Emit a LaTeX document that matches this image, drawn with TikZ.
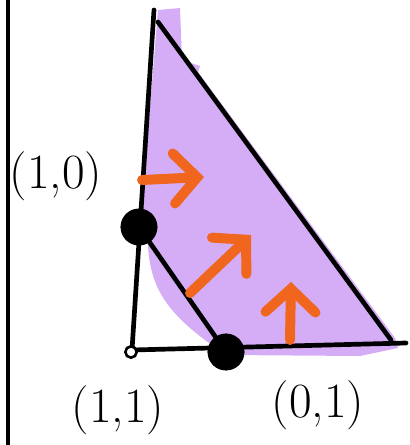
\documentclass[tikz,border=0pt]{standalone}
\usetikzlibrary{arrows.meta}
\definecolor{lila}{HTML}{D5ADF6}
\definecolor{orangey}{HTML}{F0661F}

\begin{document}
\begin{tikzpicture}[x=0.03cm, y=-0.03cm,
  edge/.style={line width=4pt, line cap=round, line join=round},
  dot/.style={circle, fill=black, minimum size=1.1cm, inner sep=0pt},
  hollow/.style={circle, draw=black, fill=white, line width=2.2pt, minimum size=0.34cm, inner sep=0pt},
  push/.style={draw=orangey, line width=8.5pt, line cap=round,
    -{Straight Barb[length=7mm, width=15mm, line cap=round]}},
  lbl/.style={font=\fontsize{42}{48}\selectfont}
]
\useasboundingbox (0,0) rectangle (409,445);

% purple region
\fill[lila] (158,10) -- (180,8) -- (182,60) -- (200,66) -- (198,72) -- (395,338) -- (398,348)
  -- (360,356) -- (226,355) -- (205,340) .. controls (165,310) and (150,285) .. (148,245)
  -- (140,228) -- cycle;

% left border
\coordinate (wallT) at (8,0);
\coordinate (wallB) at (8,445);
\draw[edge] (wallT) -- (wallB);

% corners of the triangle
\coordinate (top) at (154,10);
\coordinate (hypT) at (158,22);
\coordinate (hypB) at (391,340);
\coordinate (R) at (406,343);
\node[dot] (A) at (139,227) {};
\node[dot] (B) at (226,352) {};

% triangle
\draw[edge] (top) -- (132,350) -- (R);
\draw[edge] (hypT) -- (hypB);
\draw[edge] (A) -- (B);
\node[dot] at (A) {};
\node[dot] at (B) {};
\node[hollow] (O) at (131,352) {};

% arrows
\coordinate (p1) at (142,180);
\coordinate (q1) at (204,177);
\coordinate (p2) at (190,293);
\coordinate (q2) at (251,235);
\coordinate (p3) at (290,340);
\coordinate (q3) at (291,282);
\draw[push] (p1) -- (q1);
\draw[push] (p2) -- (q2);
\draw[push] (p3) -- (q3);

% labels
\node[lbl] (l10) at (56,176) {(1,0)};
\node[lbl] (l11) at (118,410) {(1,1)};
\node[lbl] (l01) at (318,405) {(0,1)};

\end{tikzpicture}
\end{document}
